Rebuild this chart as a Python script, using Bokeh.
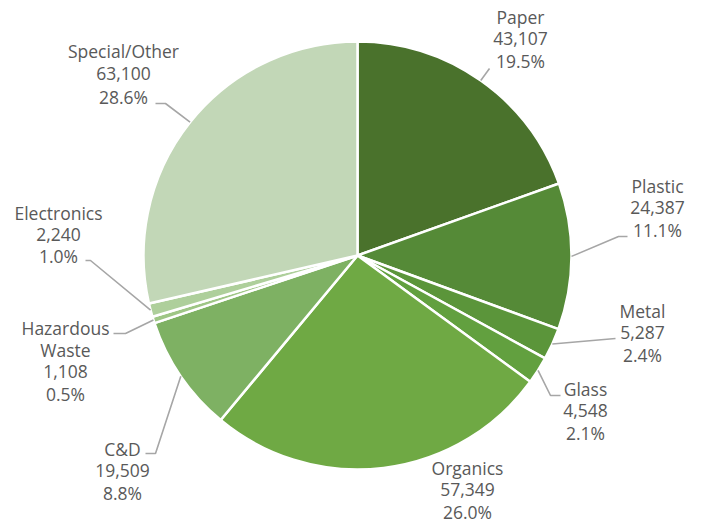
import math
from bokeh.plotting import figure
from bokeh.models import Range1d, ColumnDataSource
from bokeh.embed import file_html
from bokeh.resources import INLINE
from bokeh.core.properties import value

# ---- data ----
categories = ["Paper", "Plastic", "Metal", "Glass", "Organics", "C&D",
              "Hazardous\nWaste", "Electronics", "Special/Other"]
tons = [43107, 24387, 5287, 4548, 57349, 19509, 1108, 2240, 63100]
percent_labels = ["19.5%", "11.1%", "2.4%", "2.1%", "26.0%", "8.8%", "0.5%", "1.0%", "28.6%"]

# ---- styles ----
colors = ["#4a722c", "#558a37", "#5b953a", "#62a03f", "#6fa944",
          "#7eb163", "#9ec685", "#aecf9b", "#c2d7b7"]
TEXT_COLOR = "#595959"
LEADER_COLOR = "#a6a6a6"
FONT = "Open Sans"

W, H = 706, 523
def px(x):  # reference pixel x -> data x
    return x
def py(y):  # reference pixel y -> data y
    return H - y

CX, CY, R = px(357), py(255), 214

# label layout: (center x, first line center y, line spacing) in reference pixels
label_layout = [
    (520, 16, 22.3),
    (657, 185, 22.3),
    (642, 310, 22.3),
    (585, 388, 22.3),
    (467, 467, 22.3),
    (122, 448, 22.3),
    (65, 327, 22.0),
    (58, 212, 21.7),
    (123, 50, 23.0),
]
# leader points after the pie edge point (reference pixels), None = no leader
leader_layout = [
    [(489, 68)],
    [(618, 236), (627, 236)],
    [(615, 338)],
    [(550, 395), (560, 395)],
    None,
    [(155, 453), (145, 453)],
    [(125, 333), (113, 333)],
    [(90, 260), (85, 260)],
    [(165, 103), (155, 103)],
]

total = sum(tons)
starts, ends, mids = [], [], []
acc = 0.0
for t in tons:
    f0 = acc / total
    acc += t
    f1 = acc / total
    starts.append(math.pi / 2 - f0 * 2 * math.pi)
    ends.append(math.pi / 2 - f1 * 2 * math.pi)
    mids.append(math.pi / 2 - (f0 + f1) / 2 * 2 * math.pi)

p = figure(width=W, height=H, x_range=Range1d(0, W), y_range=Range1d(0, H),
           output_backend="svg", toolbar_location=None, min_border=0)
p.axis.visible = False
p.grid.visible = False
p.outline_line_color = None
p.background_fill_color = "white"

src = ColumnDataSource(dict(x=[CX] * len(tons), y=[CY] * len(tons), start=starts,
                            end=ends, color=colors))
p.wedge(x="x", y="y", radius=R, start_angle="start", end_angle="end",
        direction="clock", fill_color="color", line_color="white",
        line_width=2.5, source=src)

# leaders
for i, pts in enumerate(leader_layout):
    if pts is None:
        continue
    ex = CX + R * math.cos(mids[i])
    ey = CY + R * math.sin(mids[i])
    xs = [ex] + [px(a) for a, b in pts]
    ys = [ey] + [py(b) for a, b in pts]
    p.line(xs, ys, line_color=LEADER_COLOR, line_width=1.6)

# labels
for i, cat in enumerate(categories):
    lines = cat.split("\n") + [f"{tons[i]:,}", percent_labels[i]]
    lx, ly, sp = label_layout[i]
    xs = [px(lx)] * len(lines)
    ys = [py(ly + k * sp) for k in range(len(lines))]
    p.text(xs, ys, text=lines, text_align="center", text_baseline="middle",
           text_font=value(FONT), text_font_size="17.5px", text_color=TEXT_COLOR)

open("out.html", "w").write(file_html(p, INLINE))
